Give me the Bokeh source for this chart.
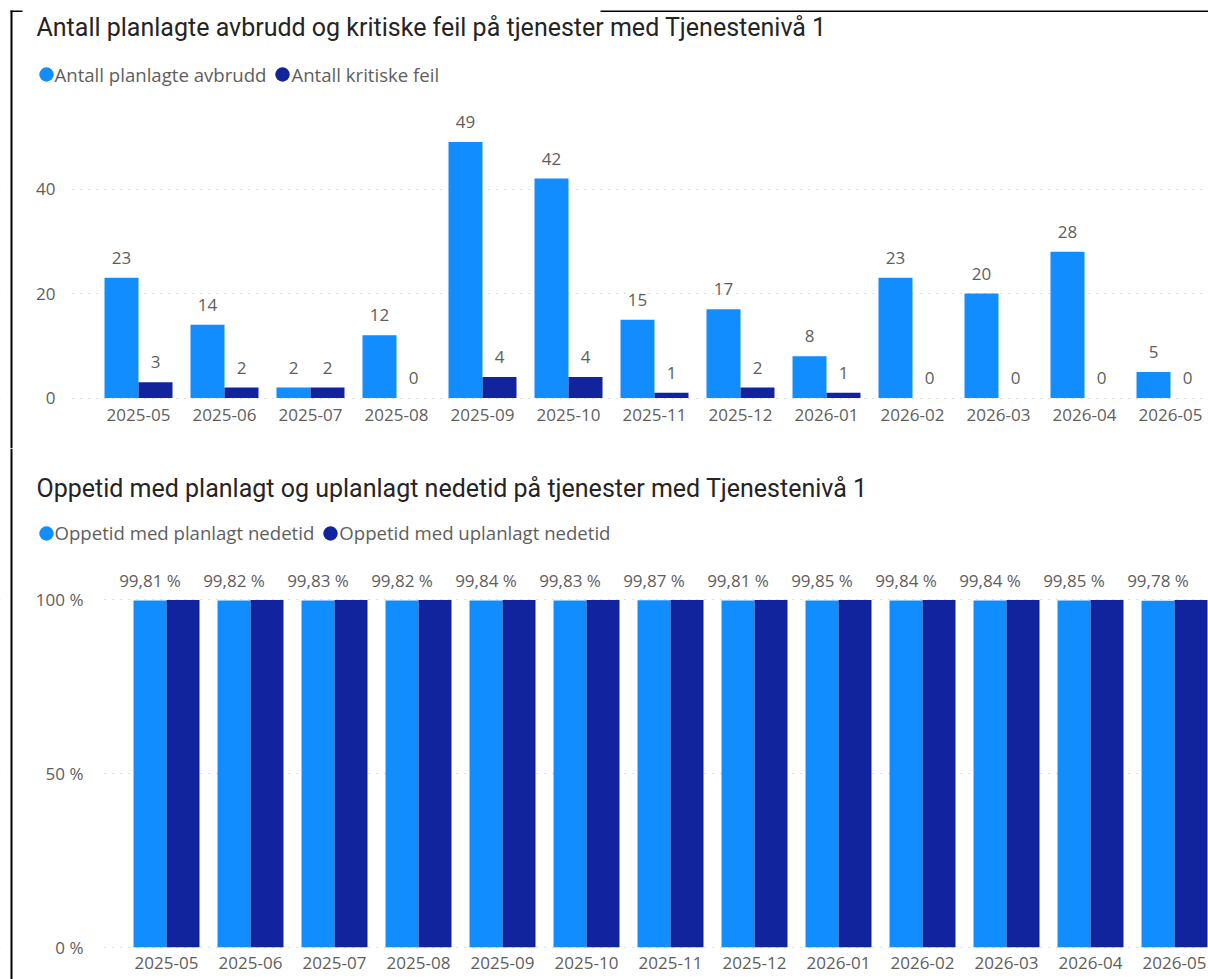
from bokeh.plotting import figure
from bokeh.models import (Range1d, FixedTicker, Label, Legend, LegendItem, BoxAnnotation,
                          ColumnDataSource, GlobalInlineStyleSheet)
from bokeh.layouts import column
from bokeh.transform import dodge
from bokeh.embed import file_html
from bokeh.resources import INLINE
from bokeh.core.properties import value

# ---------------- data ----------------
months = ["2025-05", "2025-06", "2025-07", "2025-08", "2025-09", "2025-10", "2025-11",
          "2025-12", "2026-01", "2026-02", "2026-03", "2026-04", "2026-05"]
planlagte_avbrudd = [23, 14, 2, 12, 49, 42, 15, 17, 8, 23, 20, 28, 5]
kritiske_feil = [3, 2, 2, 0, 4, 4, 1, 2, 1, 0, 0, 0, 0]
oppetid_planlagt = [99.81, 99.82, 99.83, 99.82, 99.84, 99.83, 99.87, 99.81, 99.85, 99.84, 99.84, 99.85, 99.78]
oppetid_uplanlagt = [99.98, 99.99, 99.99, 100.0, 99.98, 99.98, 99.99, 99.99, 99.99, 100.0, 100.0, 100.0, 100.0]
ticks_top = [0, 20, 40]
ticks_bottom = [0, 50, 100]

title_top = "Antall planlagte avbrudd og kritiske feil på tjenester med Tjenestenivå 1"
title_bottom = "Oppetid med planlagt og uplanlagt nedetid på tjenester med Tjenestenivå 1"
legend_top = ["Antall planlagte avbrudd", "Antall kritiske feil"]
legend_bottom = ["Oppetid med planlagt nedetid", "Oppetid med uplanlagt nedetid"]

# ---------------- style ----------------
LIGHT = "#118DFF"
DARK = "#12239E"
TITLE_C = "#252423"
TEXT_C = "#605E5C"
GRID_C = "#BDBBB9"
FONT = "Open Sans"
TFONT = "Roboto"
W = 1208

sheet = GlobalInlineStyleSheet(css="html, body { overflow: hidden; }")


def style_axes(p, yticks, ylabels, ystandoff, xstandoff):
    xa = p.xaxis[0]
    xa.ticker = FixedTicker(ticks=list(range(len(months))))
    xa.major_label_overrides = {i: m for i, m in enumerate(months)}
    ya = p.yaxis[0]
    ya.ticker = FixedTicker(ticks=yticks)
    ya.major_label_overrides = ylabels
    for ax in (xa, ya):
        ax.axis_line_color = None
        ax.major_tick_line_color = None
        ax.minor_tick_line_color = None
        ax.major_tick_out = 0
        ax.major_tick_in = 0
        ax.major_label_text_font = FONT
        ax.major_label_text_font_size = "17px"
        ax.major_label_text_color = TEXT_C
    xa.major_label_standoff = xstandoff
    ya.major_label_standoff = ystandoff
    p.xgrid.visible = False
    p.ygrid.ticker = FixedTicker(ticks=yticks)
    p.ygrid.grid_line_color = GRID_C
    p.ygrid.grid_line_dash = "1 7"
    p.ygrid.grid_line_width = 1
    p.outline_line_color = None


def add_legend(p, labels, loc):
    rs = []
    for c in (LIGHT, DARK):
        # legend swatch only: a 14px screen-sized circle with no visible data point
        rs.append(p.ellipse(x=[float("nan")], y=[float("nan")], width=14, height=14,
                            width_units="screen", height_units="screen",
                            fill_color=c, line_color=None))
    lg = Legend(items=[LegendItem(label=labels[0], renderers=[rs[0]]),
                       LegendItem(label=labels[1], renderers=[rs[1]])],
                location=loc, orientation="horizontal", glyph_width=18, glyph_height=18,
                label_height=35, label_standoff=0, spacing=7, padding=0, margin=0,
                border_line_color=None, background_fill_alpha=0,
                label_text_font=FONT, label_text_font_size="18.6px", label_text_color=TEXT_C)
    p.add_layout(lg)


def box(p, l, r, t, b, color, level="annotation"):
    p.add_layout(BoxAnnotation(left=l, right=r, top=t, bottom=b,
                               left_units="canvas", right_units="canvas",
                               top_units="canvas", bottom_units="canvas",
                               fill_color=color, fill_alpha=1, line_color=None,
                               level=level))


def data_labels(p, xcol, off, ycol, tcol, src):
    p.text(x=dodge(xcol, off, range=p.x_range), y=ycol, text=tcol, source=src,
           text_align="center", text_baseline="alphabetic", y_offset=-20,
           text_font=value(FONT), text_font_size="17px", text_color=TEXT_C)


# ---------------- top chart ----------------
H1 = 448
ppu1 = 5.225          # pixels per unit
zero1 = 397.5         # pixel row of value 0
cat1 = 86.0           # pixels per category
c0_1 = 138.0          # pixel column of first category
p1 = figure(width=W, height=H1, output_backend="svg", toolbar_location=None,
            title_location=None,
            x_range=Range1d(-c0_1 / cat1, (W - c0_1) / cat1),
            y_range=Range1d(-(H1 - zero1) / ppu1, zero1 / ppu1),
            min_border_left=0, min_border_right=0, min_border_top=0, min_border_bottom=0)
p1.background_fill_color = "white"
p1.border_fill_color = "white"

src1 = ColumnDataSource(dict(
    x=list(range(len(months))),
    a=planlagte_avbrudd, b=kritiske_feil,
    a_lbl=[str(v) for v in planlagte_avbrudd],
    b_lbl=[str(v) for v in kritiske_feil],
))
bw1 = 34 / cat1
p1.vbar(x=dodge("x", -bw1 / 2, range=p1.x_range), top="a", width=bw1, source=src1,
        fill_color=LIGHT, line_color=None)
p1.vbar(x=dodge("x", bw1 / 2, range=p1.x_range), top="b", width=bw1, source=src1,
        fill_color=DARK, line_color=None)
data_labels(p1, "x", -bw1 / 2, "a", "a_lbl", src1)
data_labels(p1, "x", bw1 / 2, "b", "b_lbl", src1)

style_axes(p1, ticks_top, {t: str(t) for t in ticks_top}, -55, -40)
box(p1, 0, 68, 0, H1, "white", level="underlay")   # grid starts right of the tick labels
add_legend(p1, legend_top, (36.5, H1 - 91.7))
p1.add_layout(Label(x=36, y=27, x_units="canvas", y_units="canvas", text=title_top,
                    text_font=TFONT, text_font_size="25px", text_color=TITLE_C,
                    text_baseline="alphabetic"))
box(p1, 10, 12, 10, H1, "black")
box(p1, 10, 22, 10, 11.5, "black")
box(p1, 600, W, 10, 11.5, "black")

# ---------------- bottom chart ----------------
H2 = 531
top2 = H1
ppu2 = 3.473
zero2 = 946.7 - top2
cat2 = 84.0
c0_2 = 166.0
p2 = figure(width=W, height=H2, output_backend="svg", toolbar_location=None,
            title_location=None,
            x_range=Range1d(-c0_2 / cat2, (W - c0_2) / cat2),
            y_range=Range1d(-(H2 - zero2) / ppu2, zero2 / ppu2),
            min_border_left=0, min_border_right=0, min_border_top=0, min_border_bottom=0)
p2.background_fill_color = "white"
p2.border_fill_color = "white"

src2 = ColumnDataSource(dict(
    x=list(range(len(months))),
    a=oppetid_planlagt, b=oppetid_uplanlagt,
    a_lbl=[f"{v:.2f} %".replace(".", ",") for v in oppetid_planlagt],
))
bw2 = 33 / cat2
p2.vbar(x=dodge("x", -bw2 / 2, range=p2.x_range), top="a", width=bw2, source=src2,
        fill_color=LIGHT, line_color=None)
p2.vbar(x=dodge("x", bw2 / 2, range=p2.x_range), top="b", width=bw2, source=src2,
        fill_color=DARK, line_color=None)
data_labels(p2, "x", -bw2 / 2, "a", "a_lbl", src2)

style_axes(p2, ticks_bottom, {t: f"{t} %" for t in ticks_bottom}, -83, -23)
box(p2, 0, 98, 0, H2, "white", level="underlay")
add_legend(p2, legend_bottom, (36.5, H2 - (532.5 - top2 + 17.5)))
p2.add_layout(Label(x=36, y=488 - top2, x_units="canvas", y_units="canvas", text=title_bottom,
                    text_font=TFONT, text_font_size="25px", text_color=TITLE_C,
                    text_baseline="alphabetic"))
box(p2, 10, 12, 0, H2, "black")

layout = column(p1, p2, spacing=0, stylesheets=[sheet])
open("out.html", "w").write(file_html(layout, INLINE))
